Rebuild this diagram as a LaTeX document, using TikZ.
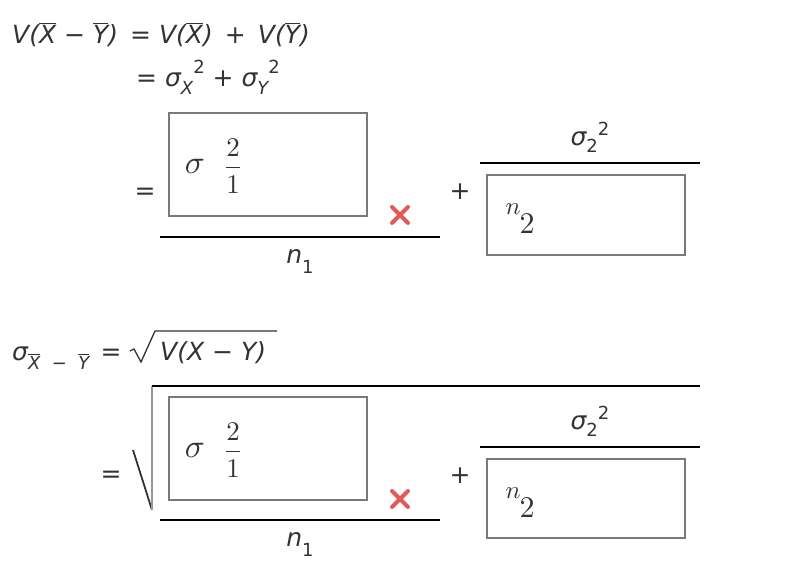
\documentclass[tikz,border=0pt]{standalone}
\usepackage{fontspec}
\usepackage{graphicx}
\newfontfamily\dvs{DejaVu Sans}
\definecolor{txt}{HTML}{333333}
\definecolor{boxg}{HTML}{7A7A7A}
\definecolor{crossred}{HTML}{E05A5A}
\newcommand{\ob}[1]{$\overline{\hbox{#1}}$}
\newcommand{\smf}{\fontsize{18}{20}\selectfont}
\newcommand{\bigsig}{\scalebox{3.3}{$\sigma$}}
\newcommand{\twoone}{\scalebox{2.7}{$\displaystyle\frac{2}{1}$}}
\newcommand{\ntwo}{\raisebox{19pt}{\scalebox{2.5}{$n$}}\hspace{-1pt}\scalebox{3}{$2$}}
\begin{document}
\begin{tikzpicture}[x=1pt,y=-1pt,
  t/.style={inner sep=0pt,text=txt,font=\dvs\fontsize{25}{28}\selectfont\itshape},
  ansbox/.style={draw=boxg,line width=1.5pt},
  rule/.style={line width=1.5pt,black},
  srf/.style={inner sep=0pt,text=txt},
  crossmk/.style={crossred,line width=4pt,line cap=round}]
\useasboundingbox (0,0) rectangle (812,576);
% line 1
\node[t,anchor=base west] (l1) at (12,43) {V(\ob{X}{\upshape\ −\ }\ob{Y}){\upshape\ \,=\ }V(\ob{X}){\upshape\ \,+\ \,}V(\ob{Y})};
% line 2
\node[t,anchor=base west] (l2) at (136,86) {{\upshape=\ }σ\raisebox{-8pt}{\smf X}\raisebox{13pt}{\upshape\smf 2}{\upshape\ +\ }σ\raisebox{-8pt}{\smf Y}\raisebox{13pt}{\upshape\smf 2}};
% block 1
\node[t,anchor=base] (eq1) at (145,199) {\upshape=};
\draw[ansbox] (169,113) rectangle (367,216);
\node[srf,anchor=base] (s1) at (195,173) {\bigsig};
\node[srf] (f1) at (233,166) {\twoone};
\draw[crossmk] (392,207) -- (408,223) (408,207) -- (392,223);
\draw[rule] (160,237) -- (440,237);
\node[t,anchor=base] (n1) at (300,263) {n\raisebox{-10pt}{\upshape\smf 1}};
\node[t,anchor=base] (p1) at (460,199) {\upshape +};
\node[t,anchor=base] (s2) at (590,145) {σ\raisebox{-7pt}{\upshape\smf 2}\raisebox{10pt}{\upshape\smf 2}};
\draw[rule] (480,163) -- (700,163);
\draw[ansbox] (487,175) rectangle (685,255);
\node[srf,anchor=base] (n2) at (520,233) {\ntwo};
% line 3
\node[t,anchor=base west] (l3) at (12,360) {σ\raisebox{-9pt}{\smf \ob{X}{\upshape\ \ −\ \ }\ob{Y}}};
\node[t,anchor=base] (eq3) at (111,360) {\upshape =};
\draw[txt,line width=1.3pt] (130,351) -- (134,349) -- (141,362) -- (155,331) -- (277,331);
\node[t,anchor=base west] (l3b) at (160,360) {V(X{\upshape\ −\ }Y)};
% block 2
\node[t,anchor=base] (eq2) at (111,482) {\upshape=};
\draw[txt,line width=1.8pt] (133,450) -- (152,510);
\draw[line width=2pt,black!40] (152,510) -- (152,386);
\draw[rule] (152,386) -- (700,386);
\draw[ansbox] (169,397) rectangle (367,500);
\node[srf,anchor=base] (s3) at (195,457) {\bigsig};
\node[srf] (f3) at (233,450) {\twoone};
\draw[crossmk] (392,491) -- (408,507) (408,491) -- (392,507);
\draw[rule] (160,520) -- (440,520);
\node[t,anchor=base] (n3) at (300,546) {n\raisebox{-10pt}{\upshape\smf 1}};
\node[t,anchor=base] (p2) at (460,483) {\upshape +};
\node[t,anchor=base] (s4) at (590,429) {σ\raisebox{-7pt}{\upshape\smf 2}\raisebox{10pt}{\upshape\smf 2}};
\draw[rule] (480,447) -- (700,447);
\draw[ansbox] (487,459) rectangle (685,538);
\node[srf,anchor=base] (n4) at (520,517) {\ntwo};
\end{tikzpicture}
\end{document}
